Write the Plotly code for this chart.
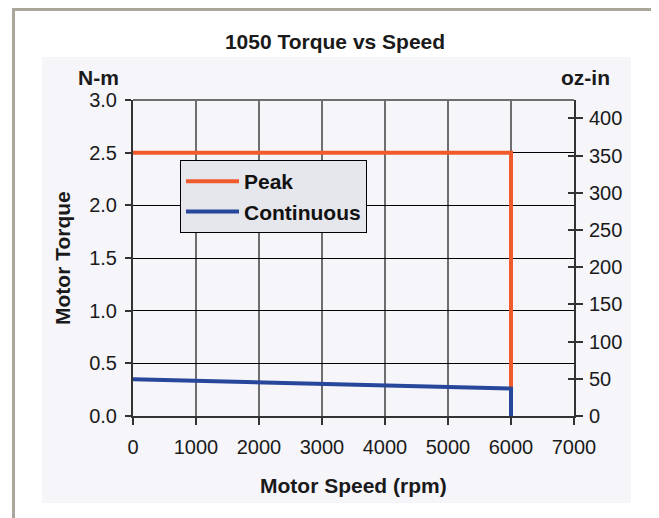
import plotly.graph_objects as go

# Torque curves (speed in rpm, torque in N-m)
speed_peak = [0, 6000, 6000]
torque_peak = [2.5, 2.5, 0]
speed_cont = [0, 6000, 6000]
torque_cont = [0.35, 0.26, 0]

NM_TO_OZIN = 141.6
y_max = 3.0

W, H = 659, 518
OFF = 8  # page body margin
# plot area on the page: x 133..574, y 100..416
L, T = 133 - OFF, 100 - OFF
R = W - (574 - OFF)
B = H - (416 - OFF)
pw, ph = W - L - R, H - T - B


def px(x):
    # page pixel -> paper x
    return (x - OFF - L) / pw


def py(y):
    # page pixel -> paper y
    return (H - B - (y - OFF)) / ph


FONT = "Liberation Sans, Arial, sans-serif"
PANEL = "#f5f5fa"
INK = "#1a1a1a"

fig = go.Figure()
fig.add_trace(go.Scatter(x=speed_peak, y=torque_peak, mode="lines", name="Peak",
                         line=dict(color="#f15a2b", width=4)))
fig.add_trace(go.Scatter(x=speed_cont, y=torque_cont, mode="lines", name="Continuous",
                         line=dict(color="#27479b", width=4)))
# dummy traces to carry right-hand axes
fig.add_trace(go.Scatter(x=[None], y=[None], yaxis="y2", showlegend=False, hoverinfo="skip"))
fig.add_trace(go.Scatter(x=[None], y=[None], yaxis="y3", showlegend=False, hoverinfo="skip"))

fig.update_layout(
    width=W, height=H,
    margin=dict(l=L, r=R, t=T, b=B),
    paper_bgcolor="white",
    plot_bgcolor=PANEL,
    font=dict(family=FONT, size=20, color=INK),
    title=dict(text="<b>1050 Torque vs Speed</b>", x=(335 - OFF) / W, xanchor="center",
               y=1 - (42 - OFF) / H, yanchor="middle", font=dict(size=21, color=INK)),
    xaxis=dict(range=[0, 7000], dtick=1000, tick0=0, showgrid=True, gridcolor="#6e6e6e",
               gridwidth=2, ticks="outside", ticklen=7, tickcolor="#333", tickwidth=1.5,
               ticklabelstandoff=5,
               showline=True, linecolor="#333", linewidth=2, zeroline=False),
    yaxis=dict(range=[0, y_max], dtick=0.5, tick0=0, tickformat=".1f", showgrid=True,
               gridcolor="#000", gridwidth=1, ticks="outside", ticklen=6, tickcolor="#333",
               tickwidth=1.5, ticklabelstandoff=4,
               showline=True, linecolor="#333", linewidth=2, zeroline=False),
    yaxis2=dict(range=[0, y_max * NM_TO_OZIN], dtick=50, tick0=0, overlaying="y",
                side="right", showgrid=False, zeroline=False, ticks="outside", ticklen=7,
                tickcolor="#333", tickwidth=1.5, ticklabelstandoff=2,
                showline=True, linecolor="#333", linewidth=2),
    yaxis3=dict(range=[0, y_max * NM_TO_OZIN], dtick=50, tick0=0, overlaying="y",
                side="right", showgrid=False, zeroline=False, ticks="inside", ticklen=6,
                tickcolor="#333", tickwidth=1.5, showticklabels=False),
    legend=dict(x=px(180), y=py(160), xanchor="left", yanchor="top",
                bgcolor="#e6e7ec", bordercolor="#000", borderwidth=1,
                font=dict(size=21, color="#111", weight="bold"),
                itemwidth=53),
    showlegend=True,
)

# grey outer panel, border and top frame line
fig.add_shape(type="rect", xref="paper", yref="paper", layer="below",
              x0=px(42), x1=px(631), y0=py(503), y1=py(57),
              fillcolor=PANEL, line=dict(width=0))
fig.add_shape(type="rect", xref="paper", yref="paper", layer="below",
              x0=px(13.5), x1=px(654.5), y0=py(570), y1=py(9.5),
              fillcolor="rgba(0,0,0,0)", line=dict(color="#aba69c", width=3))
fig.add_shape(type="line", xref="paper", yref="paper", x0=0, x1=1, y0=1, y1=1,
              line=dict(color="#6e6e6e", width=2))

# axis titles and unit labels
def label(text, x, y, angle=0):
    fig.add_annotation(text=f"<b>{text}</b>", xref="paper", yref="paper",
                       x=px(x), y=py(y), xanchor="center", yanchor="middle",
                       textangle=angle, showarrow=False, font=dict(size=21, color=INK))


label("N-m", 98, 77)
label("oz-in", 585, 77)
label("Motor Torque", 62, 258, -90)
label("Motor Speed (rpm)", 353, 485)

fig.write_html("out.html")
